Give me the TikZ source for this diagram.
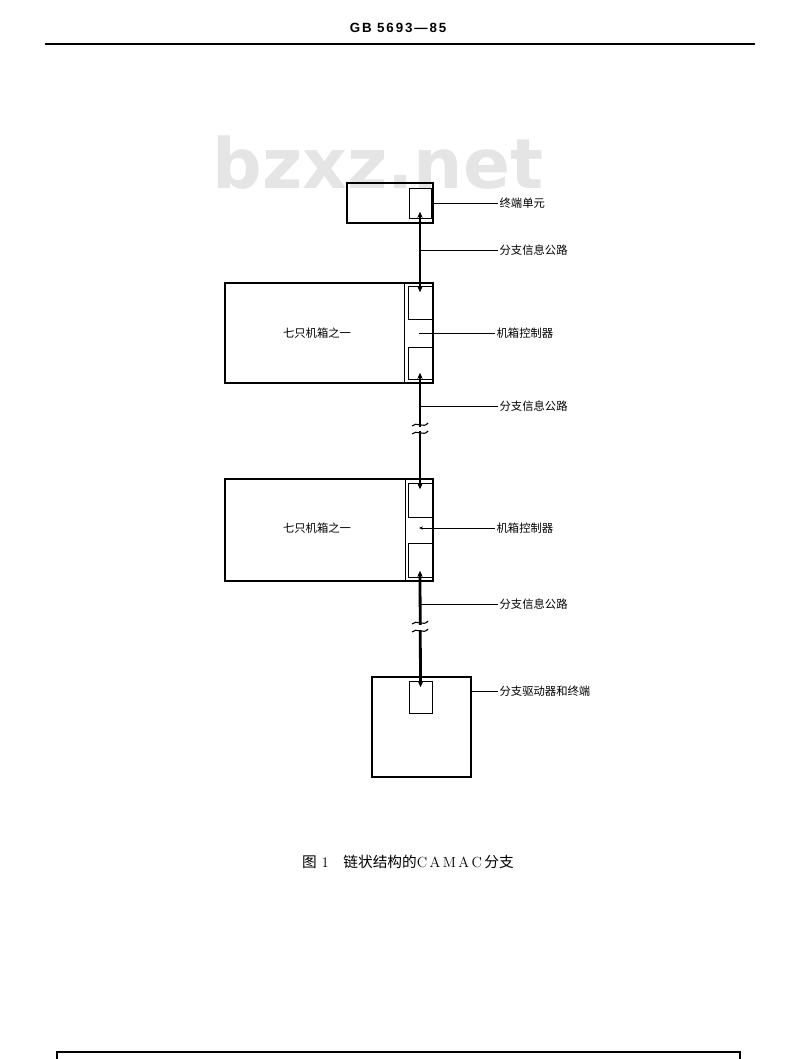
\documentclass[tikz,border=0pt]{standalone}
\usepackage{fontspec}
\newfontfamily\cjk{Noto Sans CJK SC}
\newfontfamily\wm{DejaVu Sans}
\newfontfamily\hdr[LetterSpace=14]{Liberation Sans}
\usetikzlibrary{arrows.meta,fit}
\begin{document}
\begin{tikzpicture}[x=0.75pt,y=-0.75pt,
  box/.style={draw,line width=0.8pt,inner sep=0pt},
  inbox/.style={draw,line width=0.7pt,inner sep=0pt},
  bus/.style={line width=2.1pt,{Stealth[length=4.5pt,width=4pt]}-{Stealth[length=4.5pt,width=4pt]},shorten <=-5pt,shorten >=-5pt},
  lead/.style={line width=0.6pt},
  lbl/.style={anchor=west,inner sep=1pt,font=\cjk\fontsize{8.5}{10}\selectfont},
  tilde/.style={line width=0.8pt}]
\useasboundingbox (0,0) rectangle (800,1059);
% watermark
\node[text=black!10,font=\wm\bfseries\fontsize{52}{58}\selectfont,inner sep=0] (wm) at (378,163) {bzxz.net};
% header
\node[font=\hdr\bfseries\fontsize{10}{12}\selectfont,inner sep=0] (hd) at (398,28) {GB 5693—85};
\coordinate (hl) at (45,44); \coordinate (hr) at (755,44);
\draw[line width=1pt] (hl) -- (hr);
% terminal unit
\node[box,fit={(347,183)(433,223)}] (t) {};
\node[inbox,fit={(409,188)(431,218)}] (ti) {};
% crate 1
\node[box,fit={(225,283)(433,383)}] (c1) {};
\coordinate (c1dt) at (404,283); \coordinate (c1db) at (404,383);
\draw[line width=0.7pt] (c1dt) -- (c1db);
\node[inbox,fit={(408,286)(432,319)}] (c1a) {};
\node[inbox,fit={(408,347)(432,379)}] (c1b) {};
\node[font=\cjk\fontsize{8.5}{10}\selectfont] (c1t) at (317,333) {七只机箱之一};
% crate 2
\node[box,fit={(225,479)(433,581)}] (c2) {};
\coordinate (c2dt) at (405,479); \coordinate (c2db) at (405,581);
\draw[line width=0.7pt] (c2dt) -- (c2db);
\node[inbox,fit={(408,483)(432,517)}] (c2a) {};
\node[inbox,fit={(408,543)(432,577)}] (c2b) {};
\node[font=\cjk\fontsize{8.5}{10}\selectfont] (c2t) at (317,528) {七只机箱之一};
% driver
\node[box,fit={(372,677)(471,777)}] (d) {};
\node[inbox,fit={(409,681)(432,713)}] (di) {};
% buses
\draw[bus] (ti.south) -- (c1a.north);
\draw[bus] (c1b.south) -- (c2a.north);
\draw[bus] (c2b.south) -- (di.north);
% breaks
\fill[white] (414,427) rectangle (426,431);
\fill[white] (414,625) rectangle (426,630);
\draw[tilde] (412,426) .. controls (416,421) and (424,429) .. (428,423);
\draw[tilde] (412,434) .. controls (416,429) and (424,437) .. (428,431);
\draw[tilde] (412,624) .. controls (416,619) and (424,627) .. (428,621);
\draw[tilde] (412,632) .. controls (416,627) and (424,635) .. (428,629);
% labels
\node[lbl] (l1) at (498,203) {终端单元};
\draw[lead] (t.east) -- (l1.west);
\coordinate (b1) at (420,250);
\node[lbl] (l2) at (498,250) {分支信息公路};
\draw[lead] (b1) -- (l2.west);
\coordinate (k1) at (419,333);
\node[lbl] (l3) at (495,333) {机箱控制器};
\draw[lead] (k1) -- (l3.west);
\coordinate (b2) at (420,406);
\node[lbl] (l4) at (498,406) {分支信息公路};
\draw[lead] (b2) -- (l4.west);
\coordinate (k2) at (419,528);
\node[lbl] (l5) at (495,528) {机箱控制器};
\draw[lead,{Stealth[length=3pt,width=2.5pt]}-] (k2) -- (l5.west);
\coordinate (b3) at (420,604);
\node[lbl] (l6) at (498,604) {分支信息公路};
\draw[lead] (b3) -- (l6.west);
\coordinate (dl) at (471,691);
\node[lbl] (l7) at (498,691) {分支驱动器和终端};
\draw[lead] (dl) -- (l7.west);
% caption
\node[font=\fontsize{11}{13}\selectfont,inner sep=0] (cap) at (408,862) {{\cjk 图}~1\quad{\cjk 链状结构的}C\,A\,M\,A\,C\,{\cjk 分支}};
% bottom frame
\coordinate (f1) at (57,1060); \coordinate (f2) at (57,1052);
\coordinate (f3) at (740,1052); \coordinate (f4) at (740,1060);
\draw[line width=1.2pt] (f1) -- (f2) -- (f3) -- (f4);
\end{tikzpicture}
\end{document}
